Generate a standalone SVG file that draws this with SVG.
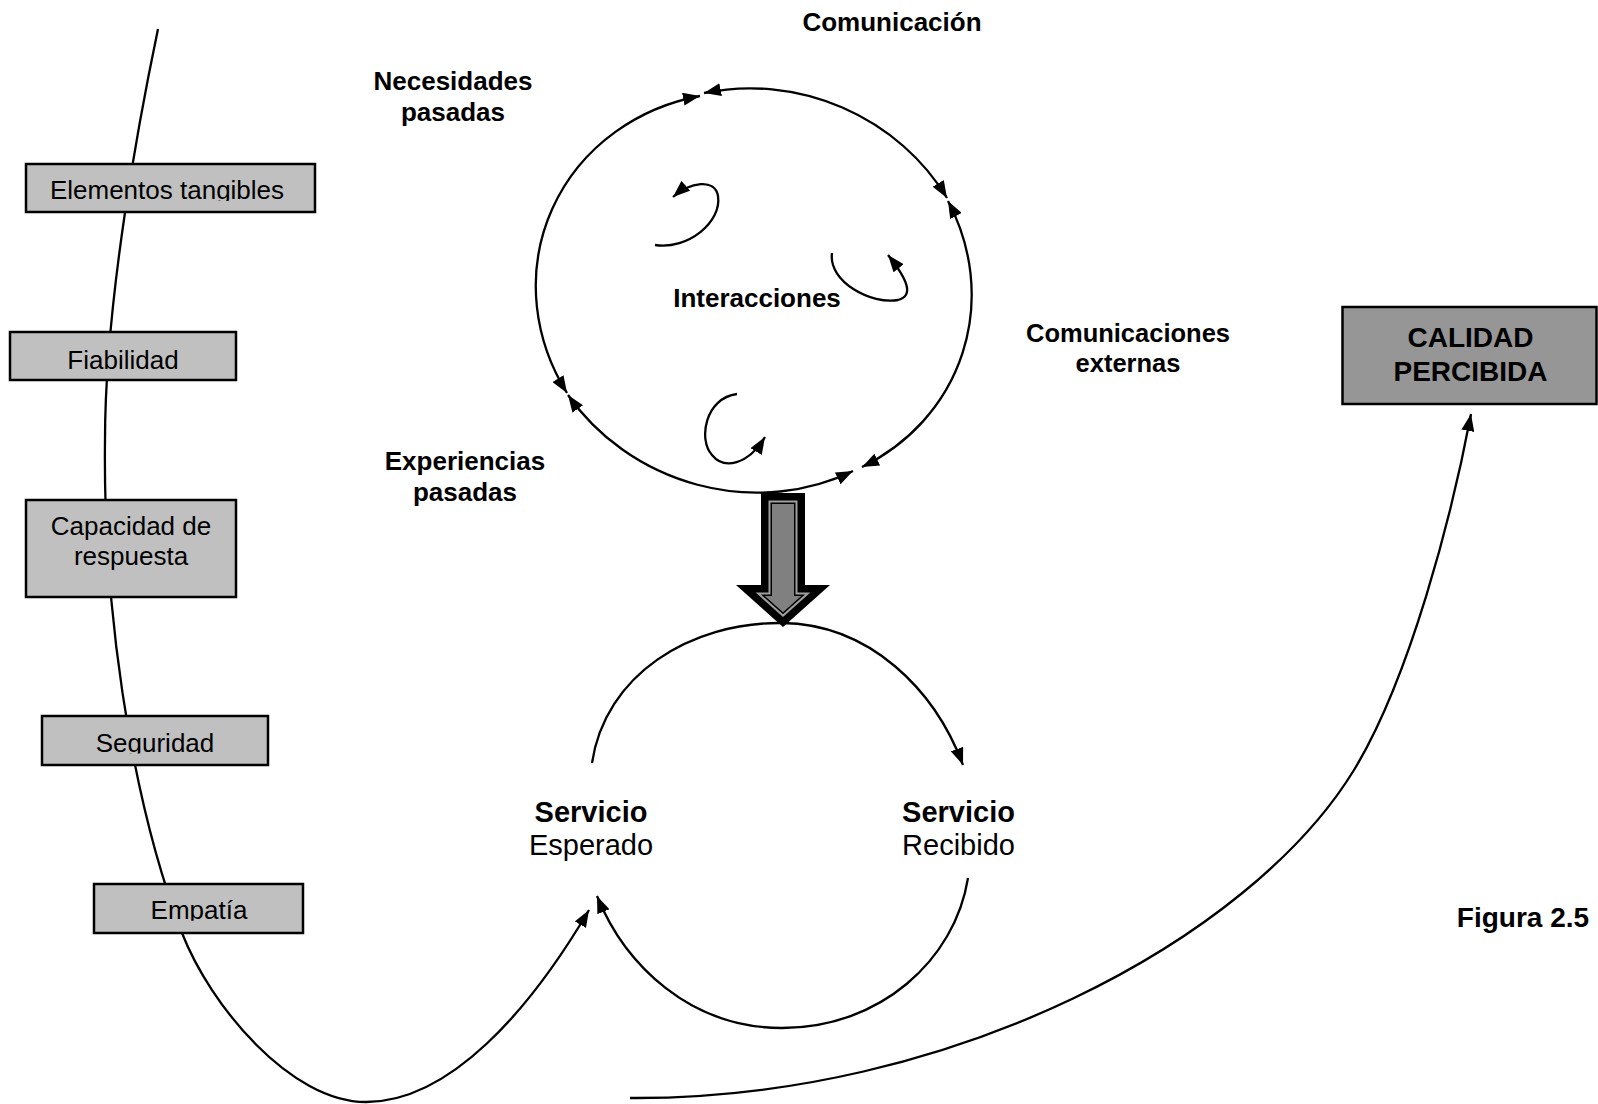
<svg xmlns="http://www.w3.org/2000/svg" width="1598" height="1104" viewBox="0 0 1598 1104">
  <style>
    .line { fill: none; stroke: #000; stroke-width: 2.3; }
    .arr { marker-end: url(#ah); }
    .arr2 { marker-start: url(#ah); marker-end: url(#ah); }
    .box { fill: #c0c0c0; stroke: #000; stroke-width: 2.5; }
    .boxdark { fill: #969696; stroke: #000; stroke-width: 2.5; }
    .t { font-family: "Liberation Sans", Arial, sans-serif; fill: #000; text-anchor: middle; }
    .bt { font-size: 26px; }
    .lbl { font-size: 26px; font-weight: bold; }
  </style>
  <defs>
    <marker id="ah" markerUnits="userSpaceOnUse" viewBox="0 0 17 13" markerWidth="17" markerHeight="13" refX="17" refY="6.5" orient="auto-start-reverse">
      <path d="M0,0 L17,6.5 L0,13 z" fill="#000"/>
    </marker>
    <clipPath id="clip-tang"><rect x="26" y="164" width="289" height="37"/></clipPath>
    <clipPath id="clip-seg"><rect x="42" y="716" width="226" height="37.5"/></clipPath>
    <clipPath id="clip-emp"><rect x="94" y="884" width="209" height="36.8"/></clipPath>
  </defs>

  <!-- connectors -->
  <g id="connectors">
    <!-- dimension line from the top through the five boxes down to the expected service -->
    <path class="line arr" d="M158,29 C140,115 105,300 105,440 C103,600 128,790 182,933 C210,1005 290,1102 366,1102 C450,1102 530,1010 589,910"/>

    <!-- outer cycle: four double-headed arcs -->
    <path class="line arr2" d="M567,393 A218,202 20 0 1 700,96"/>
    <path class="line arr2" d="M704,93 A218,202 20 0 1 947,198"/>
    <path class="line arr2" d="M948,201 A218,202 20 0 1 862,467"/>
    <path class="line arr2" d="M853,471 A218,202 20 0 1 568,395"/>

    <!-- small interaction curls -->
    <path class="line arr" d="M655,245 C688,250 722,222 718,196 C715,178 690,182 673,197"/>
    <path class="line arr" d="M832,253 C828,282 872,305 898,300 C914,296 908,280 888,255"/>
    <path class="line arr" d="M737,394 C705,398 698,440 712,455 C724,470 748,465 765,437"/>

    <!-- expected / received service loop -->
    <path class="line arr" d="M592,763 C605,675 690,622 782,623 C870,624 935,690 963,765"/>
    <path class="line arr" d="M968,878 C955,960 880,1028 782,1028 C690,1028 625,965 597,896"/>

    <!-- long sweep to perceived quality -->
    <path class="line arr" d="M630,1098 C950,1100 1250,940 1354,770 C1410,678 1452,515 1471,414"/>
  </g>

  <!-- hollow block arrow between the two cycles -->
  <g id="flow-arrow">
    <polygon points="761,493 805,493 805,585 830,585 783,627 736,585 761,585" fill="#000"/>
    <polygon points="768.5,500.5 797.5,500.5 797.5,592.5 810.4,592.5 783,617 755.6,592.5 768.5,592.5" fill="#a0a0a0"/>
    <polygon points="770.5,502.5 795.5,502.5 795.5,594.5 805.1,594.5 783,614.3 760.9,594.5 770.5,594.5" fill="#000"/>
    <polygon points="772,504 794,504 794,596 801.2,596 783,612.3 764.8,596 772,596" fill="#808080"/>
  </g>

  <!-- quality dimension boxes -->
  <g id="elementos-tangibles">
    <rect class="box" x="26" y="164" width="289" height="48"/>
    <text class="t bt" x="167" y="198.5" clip-path="url(#clip-tang)">Elementos tangibles</text>
  </g>
  <g id="fiabilidad">
    <rect class="box" x="10" y="332" width="226" height="48"/>
    <text class="t bt" x="123" y="368.5">Fiabilidad</text>
  </g>
  <g id="capacidad-de-respuesta">
    <rect class="box" x="26" y="500" width="210" height="97"/>
    <text class="t bt" x="131" y="535">Capacidad de</text>
    <text class="t bt" x="131" y="565">respuesta</text>
  </g>
  <g id="seguridad">
    <rect class="box" x="42" y="716" width="226" height="49"/>
    <text class="t bt" x="155" y="751.7" clip-path="url(#clip-seg)">Seguridad</text>
  </g>
  <g id="empatia">
    <rect class="box" x="94" y="884" width="209" height="49"/>
    <text class="t bt" x="199" y="918.5" clip-path="url(#clip-emp)">Empatía</text>
  </g>

  <!-- cycle labels -->
  <g id="comunicacion">
    <text class="t lbl" x="892" y="31">Comunicación</text>
  </g>
  <g id="necesidades-pasadas">
    <text class="t lbl" x="453" y="90">Necesidades</text>
    <text class="t lbl" x="453" y="121">pasadas</text>
  </g>
  <g id="interacciones">
    <text class="t lbl" x="757" y="307">Interacciones</text>
  </g>
  <g id="comunicaciones-externas">
    <text class="t lbl" x="1128" y="342" style="font-size:25.5px">Comunicaciones</text>
    <text class="t lbl" x="1128" y="372" style="font-size:25.5px">externas</text>
  </g>
  <g id="experiencias-pasadas">
    <text class="t lbl" x="465" y="470">Experiencias</text>
    <text class="t lbl" x="465" y="501">pasadas</text>
  </g>

  <!-- service nodes -->
  <g id="servicio-esperado">
    <text class="t" x="591" y="822" style="font-size:29px;font-weight:bold">Servicio</text>
    <text class="t" x="591" y="855" style="font-size:29px">Esperado</text>
  </g>
  <g id="servicio-recibido">
    <text class="t" x="958.5" y="822" style="font-size:29px;font-weight:bold">Servicio</text>
    <text class="t" x="958.5" y="855" style="font-size:29px">Recibido</text>
  </g>

  <!-- result -->
  <g id="calidad-percibida">
    <rect class="boxdark" x="1342.5" y="307" width="254" height="97"/>
    <text class="t" x="1470.5" y="347.3" style="font-size:28px;font-weight:bold">CALIDAD</text>
    <text class="t" x="1470.5" y="380.7" style="font-size:28px;font-weight:bold">PERCIBIDA</text>
  </g>

  <g id="caption">
    <text class="t" x="1523" y="927" style="font-size:28px;font-weight:bold">Figura 2.5</text>
  </g>
</svg>
